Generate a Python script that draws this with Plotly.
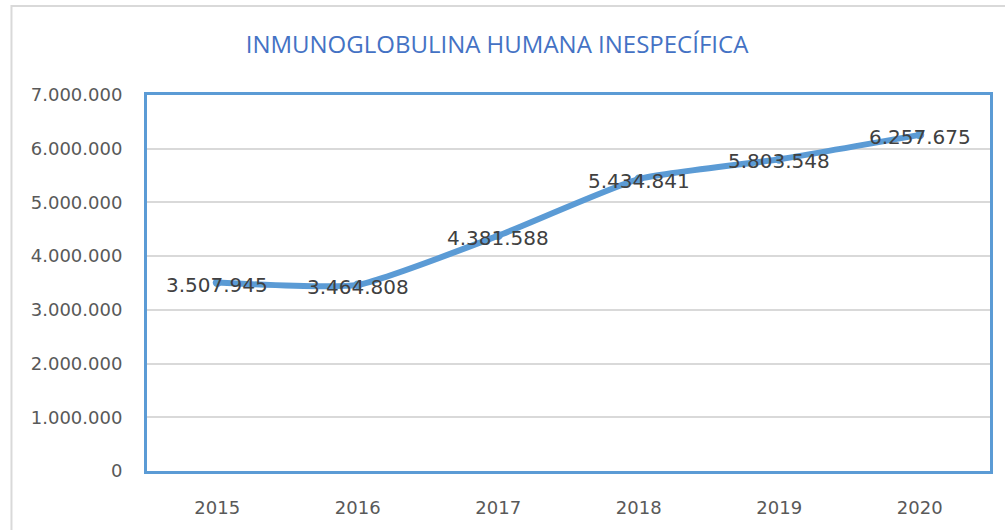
import plotly.graph_objects as go

years = ["2015", "2016", "2017", "2018", "2019", "2020"]
values = [3507945, 3464808, 4381588, 5434841, 5803548, 6257675]
title_text = "INMUNOGLOBULINA HUMANA INESPECÍFICA"

W, H = 1005, 530
L, R, T, B = 147, 12, 95, 59

fig = go.Figure()
fig.add_trace(go.Scatter(
    x=years, y=values,
    mode="lines+markers",
    line=dict(color="#5B9BD5", width=6, shape="spline", smoothing=0.5),
    marker=dict(color="#5B9BD5", size=9),
    hoverinfo="skip",
))

for i, v in enumerate(values):
    fig.add_annotation(x=i, y=v, text=f"{v:,}".replace(",", "."),
                       showarrow=False, yshift=-2, xanchor="center", yanchor="middle",
                       font=dict(family="DejaVu Sans", size=20, color="#404040"))

pw = W - L - R
ph = H - T - B
fig.add_shape(type="rect", xref="paper", yref="paper",
              x0=(11 - L) / pw, x1=1.2, y0=-0.3, y1=(ph + T - 6) / ph,
              line=dict(color="#D9D9D9", width=2), layer="below")

fig.update_layout(
    width=W, height=H,
    margin=dict(l=L, r=R, t=T, b=B),
    paper_bgcolor="white", plot_bgcolor="white",
    separators=",.",
    showlegend=False,
    title=dict(text=title_text, x=497 / W, xanchor="center", xref="container",
               y=1 - 45 / H, yanchor="middle", yref="container",
               font=dict(family="Open Sans", size=24, color="#4472C4")),
    xaxis=dict(type="category", range=[-0.5, 5.5], showgrid=False,
               showline=True, mirror=True, linecolor="#5B9BD5", linewidth=3,
               ticks="", ticklabelstandoff=18,
               tickfont=dict(family="DejaVu Sans", size=18, color="#595959")),
    yaxis=dict(range=[0, 7000000], dtick=1000000, tickformat=",d",
               showgrid=True, gridcolor="#D9D9D9", gridwidth=2,
               showline=True, mirror=True, linecolor="#5B9BD5", linewidth=3,
               zeroline=False, ticks="", ticklabelstandoff=18,
               tickfont=dict(family="DejaVu Sans", size=18, color="#595959")),
)

fig.write_html("out.html", config={"displayModeBar": False},
               post_script="document.body.style.margin='0';document.body.style.padding='0';")
